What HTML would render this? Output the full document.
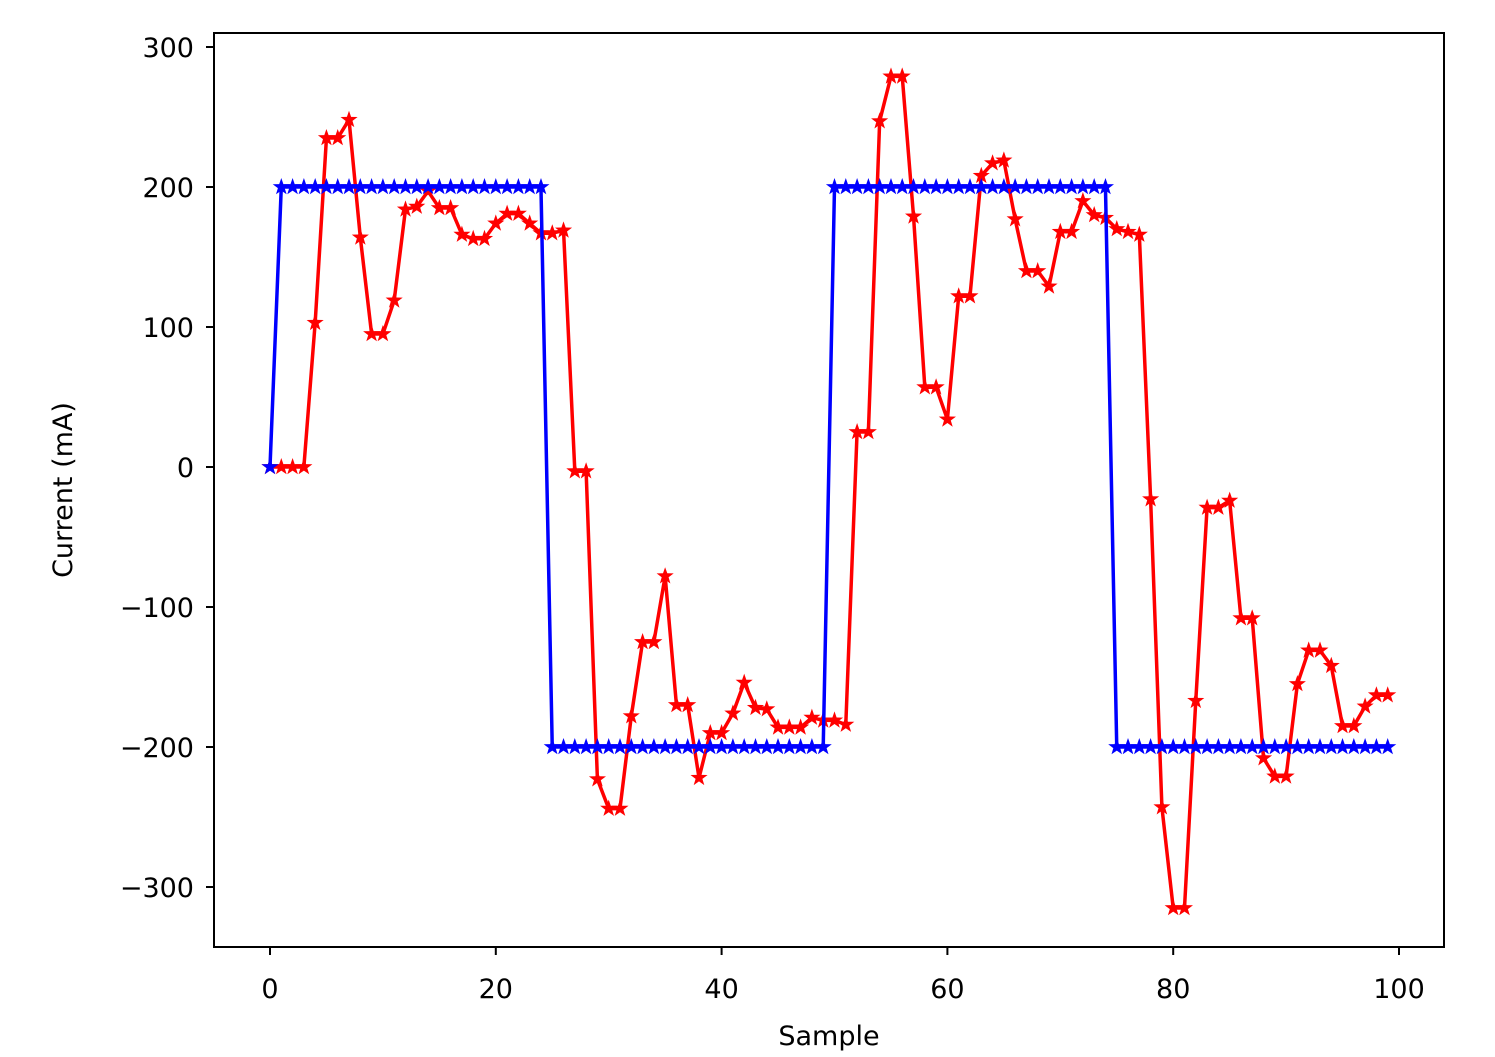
<!DOCTYPE html>
<html><head><meta charset="utf-8"><style>
html,body{margin:0;padding:0;background:#fff;}
svg text{font-family:"DejaVu Sans","Liberation Sans",sans-serif;fill:#000;}
</style></head><body>
<svg id="chart" width="1495" height="1052" xmlns="http://www.w3.org/2000/svg">
<rect x="0" y="0" width="1495" height="1052" fill="#fff"/>
<g id="marks"></g>
<rect x="214" y="33" width="1230" height="914" fill="none" stroke="#000" stroke-width="2"/>
<g id="axes"></g>
<text x="829" y="1045" font-size="27" text-anchor="middle">Sample</text>
<text transform="translate(72,490) rotate(-90)" font-size="27" text-anchor="middle">Current (mA)</text>
</svg>
<script>
const xTicks = [0, 20, 40, 60, 80, 100];
const yTicks = [-300, -200, -100, 0, 100, 200, 300];
const refSeries = [0,200,200,200,200,200,200,200,200,200,200,200,200,200,200,200,200,200,200,200,200,200,200,200,200,
-200,-200,-200,-200,-200,-200,-200,-200,-200,-200,-200,-200,-200,-200,-200,-200,-200,-200,-200,-200,-200,-200,-200,-200,-200,
200,200,200,200,200,200,200,200,200,200,200,200,200,200,200,200,200,200,200,200,200,200,200,200,200,
-200,-200,-200,-200,-200,-200,-200,-200,-200,-200,-200,-200,-200,-200,-200,-200,-200,-200,-200,-200,-200,-200,-200,-200,-200];
const measSeries = [0,0,0,0,103,235,235,248,164,95,95,119,184,186,197,185,185,166,163,163,174,181,181,174,167,
167,169,-3,-3,-223,-244,-244,-178,-125,-125,-78,-170,-170,-222,-190,-190,-176,-154,-172,-173,-186,-186,-186,-179,-181,
-181,-184,25,25,247,279,279,179,57,57,34,122,122,208,217,219,177,140,140,129,168,168,190,180,178,
170,168,166,-23,-243,-315,-315,-167,-29,-29,-24,-108,-108,-208,-221,-221,-155,-131,-131,-142,-185,-185,-171,-163,-163];

const NS='http://www.w3.org/2000/svg';
const xS = v => 270 + v*(1399-270)/100;
const yS = v => 467 - v*1.4;
const axes = document.getElementById('axes');
const marks = document.getElementById('marks');
function mk(tag, attrs, parent){const e=document.createElementNS(NS,tag);for(const k in attrs)e.setAttribute(k,attrs[k]);parent.appendChild(e);return e;}

xTicks.forEach(t=>{
  const l=mk('line',{x1:xS(t),x2:xS(t),y1:947,y2:955,stroke:'#000','stroke-width':2},axes);
  
  
  const tx=mk('text',{x:xS(t),y:998,'font-size':27,'text-anchor':'middle'},axes);
  tx.textContent=String(t);
  
  
});
yTicks.forEach(t=>{
  const l=mk('line',{x1:206,x2:214,y1:yS(t),y2:yS(t),stroke:'#000','stroke-width':2},axes);
  
  
  const tx=mk('text',{x:194,y:yS(t)+10,'font-size':27,'text-anchor':'end'},axes);
  tx.textContent=(t<0?'\u2212'+Math.abs(t):String(t));
  
  
});

function starPts(cx,cy,R){const r=R*0.4;let p=[];for(let i=0;i<10;i++){const a=-Math.PI/2+i*Math.PI/5;const rr=i%2?r:R;p.push((cx+rr*Math.cos(a)).toFixed(1)+','+(cy+rr*Math.sin(a)).toFixed(1));}return p.join(' ');}
function drawSeries(data,color,name){
  const g=mk('g',{},marks);
  
  
  const pl=mk('polyline',{points:data.map((v,i)=>xS(i)+','+yS(v)).join(' '),fill:'none',stroke:color,'stroke-width':3.5,'stroke-linejoin':'round'},g);
  
  
  data.forEach((v,i)=>{
    const s=mk('polygon',{points:starPts(xS(i),yS(v),9),fill:color},g);
    
    
  });
}
drawSeries(measSeries,'#ff0000','measured-series');
drawSeries(refSeries,'#0000ff','reference-series');
</script>
</body></html>
